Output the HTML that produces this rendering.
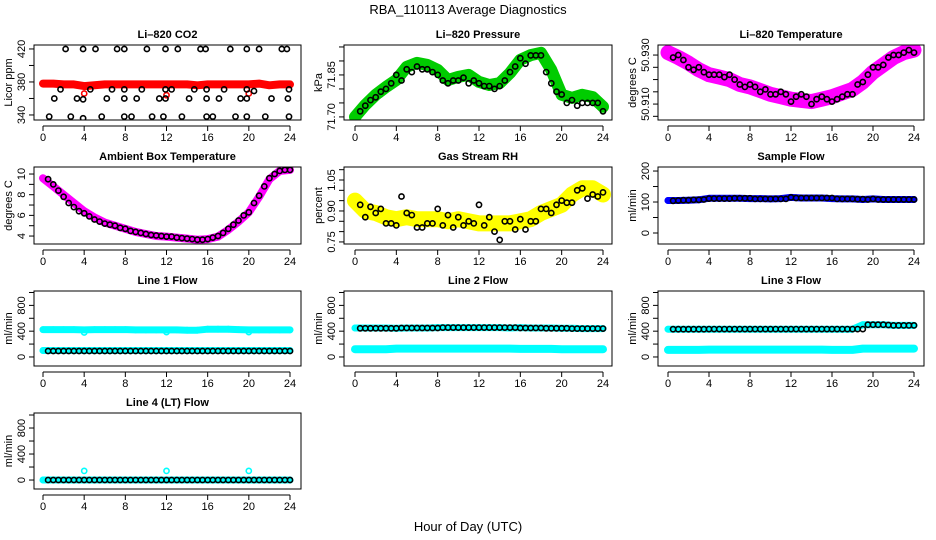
<!DOCTYPE html>
<html><head><meta charset="utf-8"><title>RBA_110113 Average Diagnostics</title>
<style>
html,body{margin:0;padding:0;background:#fff;}
svg{display:block;font-family:"Liberation Sans",sans-serif;}
</style></head>
<body>
<svg id="chart" width="936" height="540" viewBox="0 0 936 540" xmlns="http://www.w3.org/2000/svg">
<rect x="0" y="0" width="936" height="540" fill="#fff"/>
<text x="468" y="14" text-anchor="middle" font-size="13">RBA_110113  Average Diagnostics</text>
<text x="468" y="531" text-anchor="middle" font-size="13">Hour of Day (UTC)</text>
</svg>
<script>
// ---------- shared hour grids ----------
const hourlyHours = [0,1,2,3,4,5,6,7,8,9,10,11,12,13,14,15,16,17,18,19,20,21,22,23,24];
const halfHours = [0.5,1,1.5,2,2.5,3,3.5,4,4.5,5,5.5,6,6.5,7,7.5,8,8.5,9,9.5,10,10.5,11,11.5,12,12.5,13,13.5,14,14.5,15,15.5,16,16.5,17,17.5,18,18.5,19,19.5,20,20.5,21,21.5,22,22.5,23,23.5,24];
const xTickValues = [0,4,8,12,16,20,24];

// ---------- Li-820 CO2 ----------
const co2Red = [378,378,377,377,375,376,377,377,377,377,377,377,377,377,377,376,377,377,377,377,377,378,376,377,377];
const co2RedOutlierHours = [4.0,12.0,20.0];
const co2RedOutliers = [366,364,366];
const co2BlackHours = [2.2,3.9,5.1,7.2,7.9,10.1,11.9,13.1,15.3,15.8,18.2,19.8,21.0,23.2,23.7,
  1.7,4.6,6.7,7.9,9.6,11.9,12.5,14.7,15.9,17.6,19.8,20.5,23.9,
  1.1,3.3,3.9,6.2,7.9,9.1,11.3,11.9,14.2,15.9,17.1,19.2,19.8,22.2,23.8,
  0.6,2.7,3.9,5.7,7.9,8.6,10.6,11.7,13.5,15.9,16.5,18.7,19.8,21.6,23.9];
const co2Black = [420,420,420,420,420,420,420,420,420,420,420,420,420,420,420,
  371,371,371,371,371,371,371,371,371,371,371,369,371,
  360,360,359,360,360,360,360,360,360,360,360,360,360,360,360,
  338,338,336,338,338,338,338,338,338,338,338,338,338,338,338];

// ---------- Li-820 Pressure ----------
const presGreen = [71.70,71.743,71.779,71.807,71.832,71.879,71.893,71.886,71.868,71.832,71.843,71.85,71.825,71.814,71.821,71.857,71.904,71.921,71.929,71.868,71.779,71.768,71.779,71.771,71.736];
const presBlack = [71.72,71.74,71.76,71.77,71.79,71.80,71.82,71.85,71.83,71.87,71.86,71.88,71.87,71.87,71.86,71.85,71.83,71.82,71.83,71.83,71.84,71.82,71.83,71.82,71.81,71.81,71.80,71.81,71.83,71.86,71.88,71.91,71.89,71.92,71.92,71.92,71.86,71.82,71.79,71.78,71.75,71.76,71.74,71.75,71.75,71.75,71.75,71.72];

// ---------- Li-820 Temperature ----------
const tempMagenta = [50.931,50.929,50.9267,50.924,50.922,50.921,50.920,50.918,50.917,50.9155,50.914,50.913,50.912,50.9115,50.911,50.912,50.913,50.9145,50.916,50.919,50.923,50.926,50.929,50.931,50.932];
const tempBlack = [50.929,50.930,50.928,50.925,50.924,50.925,50.923,50.922,50.922,50.922,50.921,50.922,50.920,50.918,50.917,50.918,50.917,50.915,50.916,50.914,50.914,50.915,50.914,50.911,50.913,50.914,50.913,50.910,50.912,50.913,50.912,50.911,50.912,50.913,50.914,50.914,50.918,50.919,50.922,50.925,50.925,50.926,50.929,50.930,50.930,50.931,50.932,50.931];

// ---------- Ambient Box Temperature ----------
const ambMagenta = [9.6,8.8,8.0,7.2,6.4,5.8,5.3,5.0,4.7,4.4,4.2,4.0,3.95,3.85,3.75,3.65,3.7,3.95,4.6,5.4,6.3,7.8,9.5,10.3,10.4];
const ambBlack = [9.5,9.0,8.4,7.8,7.2,6.8,6.4,6.2,5.9,5.6,5.4,5.2,5.1,5.0,4.8,4.7,4.5,4.4,4.3,4.2,4.1,4.05,4.0,3.95,3.95,3.85,3.8,3.75,3.7,3.65,3.65,3.7,3.85,4.0,4.3,4.7,5.1,5.5,6.0,6.3,7.2,7.9,8.8,9.6,10.0,10.3,10.4,10.4];

// ---------- Gas Stream RH ----------
const rhYellow = [0.95,0.90,0.89,0.87,0.86,0.87,0.86,0.86,0.86,0.85,0.86,0.85,0.84,0.84,0.84,0.84,0.85,0.86,0.89,0.91,0.93,0.98,1.01,1.01,0.98];
const rhBlack = [0.93,0.87,0.92,0.89,0.91,0.84,0.84,0.83,0.97,0.89,0.88,0.82,0.82,0.84,0.84,0.91,0.83,0.88,0.82,0.87,0.83,0.85,0.84,0.93,0.83,0.87,0.80,0.76,0.85,0.85,0.81,0.86,0.81,0.85,0.85,0.91,0.91,0.89,0.93,0.95,0.94,0.94,1.00,1.01,0.96,0.98,0.97,0.99];

// ---------- Sample Flow ----------
const sampleBlue = [105,105,106,107,112,112,112,112,111,111,110,111,115,113,113,113,111,110,110,108,110,108,108,108,108];
const sampleBlack = [104,105,106,106,107,107,108,111,111,111,111,111,112,112,112,112,110,110,110,110,110,110,110,115,113,113,113,113,113,113,113,113,110,110,110,110,109,109,108,110,108,108,108,108,108,108,108,108];

// ---------- Line 1 Flow ----------
const l1CyanHigh = [425,425,425,425,420,425,425,425,425,420,420,420,420,420,415,415,430,430,430,425,420,420,420,420,420];
const l1CyanLow = [100,100,100,100,100,100,100,100,100,100,100,100,100,100,100,100,100,100,100,100,100,100,100,100,100];
const l1CyanDipHours = [4.0,12.0,20.0];
const l1CyanDips = [380,385,385];
const l1Black = [92,92,92,92,92,92,92,92,92,92,92,92,92,92,92,92,92,92,92,92,92,92,92,92,92,92,92,92,92,92,92,92,92,92,92,92,92,92,92,92,92,92,92,92,92,92,92,92];

// ---------- Line 2 Flow ----------
const l2CyanHigh = [450,450,450,450,445,450,450,450,455,455,455,455,455,455,455,450,455,450,450,450,445,445,440,440,440];
const l2CyanLow = [120,120,120,120,130,130,130,130,130,130,130,130,130,130,130,130,125,125,125,125,120,120,120,120,120];
const l2Black = [445,445,445,445,445,445,445,445,450,450,450,450,450,450,450,450,455,455,455,455,455,455,455,455,455,455,455,455,455,455,455,450,450,450,450,450,445,445,445,445,445,440,440,440,440,440,440,440];

// ---------- Line 3 Flow ----------
const l3CyanHigh = [430,430,430,430,430,430,430,430,430,430,430,430,430,430,430,430,430,430,430,500,500,500,490,490,490];
const l3CyanLow = [110,110,110,110,115,115,115,115,115,115,115,115,115,115,115,115,110,110,110,130,130,130,130,130,130];
const l3Black = [430,430,430,430,430,430,430,432,432,432,432,432,432,432,432,432,432,432,432,432,432,432,432,432,432,432,432,432,432,432,432,432,432,432,432,432,432,432,500,500,500,500,495,490,490,490,490,490];

// ---------- Line 4 (LT) Flow ----------
const l4Cyan = [0,0,0,0,0,0,0,0,0,0,0,0,0,0,0,0,0,0,0,0,0,0,0,0,0];
const l4CyanSpikeHours = [4.0,12.0,20.0];
const l4CyanSpikes = [140,140,140];
const l4Black = [0,0,0,0,0,0,0,0,0,0,0,0,0,0,0,0,0,0,0,0,0,0,0,0,0,0,0,0,0,0,0,0,0,0,0,0,0,0,0,0,0,0,0,0,0,0,0,0];

// ---------- tick label arrays ----------
const co2Ticks = [340,360,380,400,420];
const co2Labels = ["340","380","420"];
const presTicks = [71.70,71.75,71.80,71.85,71.90,71.95];
const presLabels = ["71.70","71.85"];
const tempTicks = [50.905,50.910,50.915,50.920,50.925,50.930];
const tempLabels = ["50.910","50.930"];
const ambTicks = [4,5,6,7,8,9,10];
const ambLabels = ["4","6","8","10"];
const rhTicks = [0.75,0.80,0.85,0.90,0.95,1.00,1.05,1.10];
const rhLabels = ["0.75","0.90","1.05"];
const sampleTicks = [0,50,100,150,200];
const sampleLabels = ["0","100","200"];
const flowTicks = [0,200,400,600,800,1000];
const flowLabels = ["0","400","800"];

// ---------- layout ----------
const NS = "http://www.w3.org/2000/svg";
const svg = document.getElementById('chart');
const cols = [{l:34,r:301,x0:43,x24:290},{l:344,r:612,x0:355,x24:603},{l:658,r:924,x0:668,x24:914}];
const rows = [{t:45,b:120},{t:167,b:244},{t:291,b:366},{t:413,b:489}];

function mk(tag, attrs, parent){
  const e = document.createElementNS(NS, tag);
  for (const k in attrs) e.setAttribute(k, attrs[k]);
  parent.appendChild(e);
  return e;
}

function panel(cfg){
  const c = cols[cfg.col], r = rows[cfg.row];
  const g = mk('g', {}, svg);
  
  
  const xs = h => c.x0 + h * (c.x24 - c.x0) / 24;
  const ys = v => r.b - (v - cfg.dom[0]) / (cfg.dom[1] - cfg.dom[0]) * (r.b - r.t);

  const clipId = 'clip-' + cfg.name;
  const cp = mk('clipPath', {id: clipId}, g);
  mk('rect', {x: c.l, y: r.t, width: c.r - c.l, height: r.b - r.t}, cp);
  const plot = mk('g', {'clip-path': 'url(#' + clipId + ')'}, g);
  
  

  cfg.series.forEach(s => {
    const sg = mk('g', {}, plot);
    
    
    if (s.band) {
      const pts = s.hours.map((h,i) => xs(h).toFixed(1) + ',' + ys(s.values[i]).toFixed(1)).join(' ');
      const pl = mk('polyline', {points: pts, fill: 'none', stroke: s.color, 'stroke-width': s.band, 'stroke-linejoin': 'round', 'stroke-linecap': 'round'}, sg);
      
      
    }
    s.hours.forEach((h,i) => {
      const p = mk('circle', {cx: xs(h).toFixed(1), cy: ys(s.values[i]).toFixed(1), r: s.r || 2.6, fill: 'none', stroke: s.color, 'stroke-width': s.sw || 1.6}, sg);
      
      
    });
  });

  const box = mk('rect', {x: c.l, y: r.t, width: c.r - c.l, height: r.b - r.t, fill: 'none', stroke: '#000', 'stroke-width': 1}, g);
  
  

  const title = mk('text', {x: (c.l + c.r) / 2, y: r.t - 7, 'text-anchor': 'middle', 'font-size': 11, 'font-weight': 'bold'}, g);
  title.textContent = cfg.title;
  
  

  // x axis
  const xa = mk('g', {}, g);
  
  
  mk('line', {x1: xs(0), x2: xs(24), y1: r.b + 6, y2: r.b + 6, stroke: '#000'}, xa);
  xTickValues.forEach(v => {
    mk('line', {x1: xs(v), x2: xs(v), y1: r.b + 6, y2: r.b + 11, stroke: '#000'}, xa);
    const t = mk('text', {x: xs(v), y: r.b + 21, 'text-anchor': 'middle', 'font-size': 11}, xa);
    t.textContent = String(v);
    
    
  });

  // y axis
  const ya = mk('g', {}, g);
  
  
  const ax = c.l;
  mk('line', {x1: ax, x2: ax, y1: ys(cfg.ticks[0]), y2: ys(cfg.ticks[cfg.ticks.length-1]), stroke: '#000'}, ya);
  cfg.ticks.forEach(v => {
    mk('line', {x1: ax - 5, x2: ax, y1: ys(v), y2: ys(v), stroke: '#000'}, ya);
  });
  cfg.labels.forEach(lab => {
    const yy = ys(parseFloat(lab));
    const t = mk('text', {x: ax - 9, y: yy, 'text-anchor': 'middle', 'font-size': 11, transform: 'rotate(-90 ' + (ax - 9) + ' ' + yy + ')'}, ya);
    t.textContent = lab;
    
    
  });
  const ym = (r.t + r.b) / 2;
  const yt = mk('text', {x: ax - 22, y: ym, 'text-anchor': 'middle', 'font-size': 11, transform: 'rotate(-90 ' + (ax - 22) + ' ' + ym + ')'}, ya);
  yt.textContent = cfg.ylab;
  
  
}

const CY = '#00ffff';
panel({name:'co2', col:0, row:0, title:'Li\u2013820 CO2', ylab:'Licor ppm', dom:[333.9,424.8], ticks:co2Ticks, labels:co2Labels, series:[
  {name:'co2-red-series', hours:hourlyHours, values:co2Red, color:'#ff0000', band:8},
  {name:'co2-red-outliers', hours:co2RedOutlierHours, values:co2RedOutliers, color:'#ff0000'},
  {name:'co2-black-series', hours:co2BlackHours, values:co2Black, color:'#000'}]});
panel({name:'pressure', col:1, row:0, title:'Li\u2013820 Pressure', ylab:'kPa', dom:[71.689,71.957], ticks:presTicks, labels:presLabels, series:[
  {name:'pressure-green-series', hours:hourlyHours, values:presGreen, color:'#00cc00', band:12},
  {name:'pressure-black-series', hours:halfHours, values:presBlack, color:'#000'}]});
panel({name:'temperature', col:2, row:0, title:'Li\u2013820 Temperature', ylab:'degrees C', dom:[50.9035,50.9341], ticks:tempTicks, labels:tempLabels, series:[
  {name:'temperature-magenta-series', hours:hourlyHours, values:tempMagenta, color:'#ff00ff', band:15},
  {name:'temperature-black-series', hours:halfHours, values:tempBlack, color:'#000'}]});
panel({name:'ambient', col:0, row:1, title:'Ambient Box Temperature', ylab:'degrees C', dom:[3.23,10.68], ticks:ambTicks, labels:ambLabels, series:[
  {name:'ambient-magenta-series', hours:hourlyHours, values:ambMagenta, color:'#ff00ff', band:8},
  {name:'ambient-black-series', hours:halfHours, values:ambBlack, color:'#000'}]});
panel({name:'rh', col:1, row:1, title:'Gas Stream RH', ylab:'percent', dom:[0.740,1.113], ticks:rhTicks, labels:rhLabels, series:[
  {name:'rh-yellow-series', hours:hourlyHours, values:rhYellow, color:'#ffff00', band:16},
  {name:'rh-black-series', hours:halfHours, values:rhBlack, color:'#000'}]});
panel({name:'sample-flow', col:2, row:1, title:'Sample Flow', ylab:'ml/min', dom:[-35.5,213], ticks:sampleTicks, labels:sampleLabels, series:[
  {name:'sample-blue-series', hours:hourlyHours, values:sampleBlue, color:'#0000ff', band:7},
  {name:'sample-black-series', hours:halfHours, values:sampleBlack, color:'#000'}]});
panel({name:'line1-flow', col:0, row:2, title:'Line 1 Flow', ylab:'ml/min', dom:[-140,1023], ticks:flowTicks, labels:flowLabels, series:[
  {name:'line1-cyan-high', hours:hourlyHours, values:l1CyanHigh, color:CY, band:7},
  {name:'line1-cyan-dips', hours:l1CyanDipHours, values:l1CyanDips, color:CY},
  {name:'line1-cyan-low', hours:hourlyHours, values:l1CyanLow, color:CY, band:7},
  {name:'line1-black-series', hours:halfHours, values:l1Black, color:'#000'}]});
panel({name:'line2-flow', col:1, row:2, title:'Line 2 Flow', ylab:'ml/min', dom:[-140,1023], ticks:flowTicks, labels:flowLabels, series:[
  {name:'line2-cyan-high', hours:hourlyHours, values:l2CyanHigh, color:CY, band:7},
  {name:'line2-cyan-low', hours:hourlyHours, values:l2CyanLow, color:CY, band:8},
  {name:'line2-black-series', hours:halfHours, values:l2Black, color:'#000'}]});
panel({name:'line3-flow', col:2, row:2, title:'Line 3 Flow', ylab:'ml/min', dom:[-140,1023], ticks:flowTicks, labels:flowLabels, series:[
  {name:'line3-cyan-high', hours:hourlyHours, values:l3CyanHigh, color:CY, band:7},
  {name:'line3-cyan-low', hours:hourlyHours, values:l3CyanLow, color:CY, band:8},
  {name:'line3-black-series', hours:halfHours, values:l3Black, color:'#000'}]});
panel({name:'line4-flow', col:0, row:3, title:'Line 4 (LT) Flow', ylab:'ml/min', dom:[-138,1031], ticks:flowTicks, labels:flowLabels, series:[
  {name:'line4-cyan-series', hours:hourlyHours, values:l4Cyan, color:CY, band:7},
  {name:'line4-cyan-spikes', hours:l4CyanSpikeHours, values:l4CyanSpikes, color:CY},
  {name:'line4-black-series', hours:halfHours, values:l4Black, color:'#000'}]});
</script>
</body></html>
